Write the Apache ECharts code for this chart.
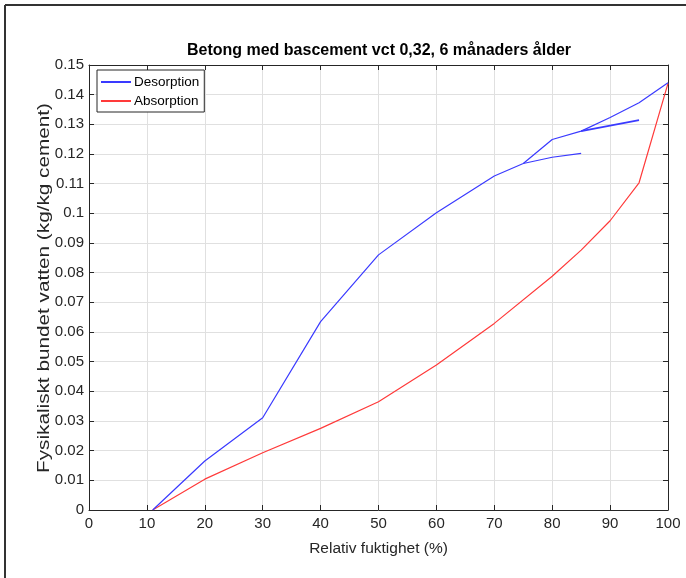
<!DOCTYPE html>
<html>
<head>
<meta charset="utf-8">
<script src="https://cdn.jsdelivr.net/npm/echarts@6/dist/echarts.min.js"></script>
<style>html,body{margin:0;padding:0;background:#fff}#c{width:686px;height:578px}</style>
</head>
<body>
<div id="c"></div>
<script>
// Data
const titleText = "Betong med bascement vct 0,32, 6 månaders ålder";
const xName = "Relativ fuktighet (%)";
const yName = "Fysikaliskt bundet vatten (kg/kg cement)";
const desorptionX = [11, 20, 30, 40, 50, 60, 70, 75, 80, 85, 90, 95, 100];
const desorptionY = [0, 0.0165, 0.0311, 0.0635, 0.0860, 0.1002, 0.1126, 0.1168, 0.1249, 0.1277, 0.1323, 0.1373, 0.1440];
const scan1X = [75, 80, 85];
const scan1Y = [0.1168, 0.1189, 0.1202];
const scan2X = [85, 95];
const scan2Y = [0.1277, 0.1314];
const absorptionX = [11, 20, 30, 40, 50, 60, 70, 80, 85, 90, 95, 100];
const absorptionY = [0, 0.0104, 0.0193, 0.0275, 0.0365, 0.0489, 0.0629, 0.0788, 0.0876, 0.0975, 0.1103, 0.1438];
const xTicks = {min: 0, max: 100, interval: 10};
const yTicks = {min: 0, max: 0.15, interval: 0.01};

const zip = (xs, ys) => xs.map((x, i) => [x, ys[i]]);
const FONT = "'Liberation Sans', Arial, Helvetica, sans-serif";
const TXT = '#262626';
const BLUE = '#3a3aff';
const RED = '#ff3a3a';

const chart = echarts.init(document.getElementById('c'), null, {renderer: 'canvas'});
const axisCommon = {
  axisLine: {show: true, onZero: false, lineStyle: {color: TXT, width: 1}},
  axisTick: {show: true, inside: true, length: 5, lineStyle: {color: TXT}},
  splitLine: {show: false}
};
chart.setOption({
  animation: false,
  backgroundColor: '#fff',
  title: {
    text: titleText, left: 374, textAlign: 'center', top: 38,
    textStyle: {fontFamily: FONT, fontSize: 16, fontWeight: 'bold', color: '#000'}
  },
  grid: {left: 89, right: 18, top: 65, bottom: 68},
  legend: {
    orient: 'vertical', left: 97, top: 70,
    data: ['Desorption', 'Absorption'],
    icon: 'rect', itemWidth: 30, itemHeight: 2, itemGap: 5,
    padding: [5, 5, 4, 4],
    borderColor: TXT, borderWidth: 1, backgroundColor: '#fff',
    textStyle: {fontFamily: FONT, fontSize: 13.5, color: '#000', padding: [0, 0, 0, -2]}
  },
  xAxis: [
    Object.assign({
      type: 'value', min: xTicks.min, max: xTicks.max, interval: xTicks.interval, position: 'bottom',
      name: xName, nameLocation: 'middle', nameGap: 31,
      nameTextStyle: {fontFamily: FONT, fontSize: 15.5, color: TXT},
      axisLabel: {fontFamily: FONT, fontSize: 15, color: TXT, margin: 6}
    }, axisCommon, {splitLine: {show: true, lineStyle: {color: '#e0e0e0', width: 1}}}),
    Object.assign({
      type: 'value', min: xTicks.min, max: xTicks.max, interval: xTicks.interval, position: 'top',
      axisLabel: {show: false}
    }, axisCommon)
  ],
  yAxis: [
    Object.assign({
      type: 'value', min: yTicks.min, max: yTicks.max, interval: yTicks.interval, position: 'left',
      axisLabel: {fontFamily: FONT, fontSize: 15, color: TXT, margin: 5,
        formatter: v => String(+v.toFixed(2))}
    }, axisCommon, {splitLine: {show: true, lineStyle: {color: '#e0e0e0', width: 1}}}),
    Object.assign({
      type: 'value', min: yTicks.min, max: yTicks.max, interval: yTicks.interval, position: 'right',
      axisLabel: {show: false}
    }, axisCommon)
  ],
  series: [
    {name: 'Desorption', type: 'line', data: zip(desorptionX, desorptionY), showSymbol: false, color: BLUE, lineStyle: {width: 1.2, color: BLUE}, z: 3},
    {name: 'Desorption', type: 'line', data: zip(scan1X, scan1Y), showSymbol: false, color: BLUE, lineStyle: {width: 1.2, color: BLUE}, z: 3},
    {name: 'Desorption', type: 'line', data: zip(scan2X, scan2Y), showSymbol: false, color: BLUE, lineStyle: {width: 1.8, color: BLUE}, z: 3},
    {name: 'Absorption', type: 'line', data: zip(absorptionX, absorptionY), showSymbol: false, color: RED, lineStyle: {width: 1.2, color: RED}, z: 2}
  ],
  graphic: [
    {type: 'line', shape: {x1: 5, y1: 5, x2: 686, y2: 5}, style: {stroke: '#333', lineWidth: 2}},
    {type: 'line', shape: {x1: 5, y1: 5, x2: 5, y2: 578}, style: {stroke: '#333', lineWidth: 2}},
    {type: 'text', x: 44, y: 288, rotation: Math.PI / 2, scaleX: 1.22,
      style: {text: yName, fontFamily: FONT, fontSize: 17, fill: TXT, align: 'center', verticalAlign: 'middle'}}
  ]
});
</script>
</body>
</html>
